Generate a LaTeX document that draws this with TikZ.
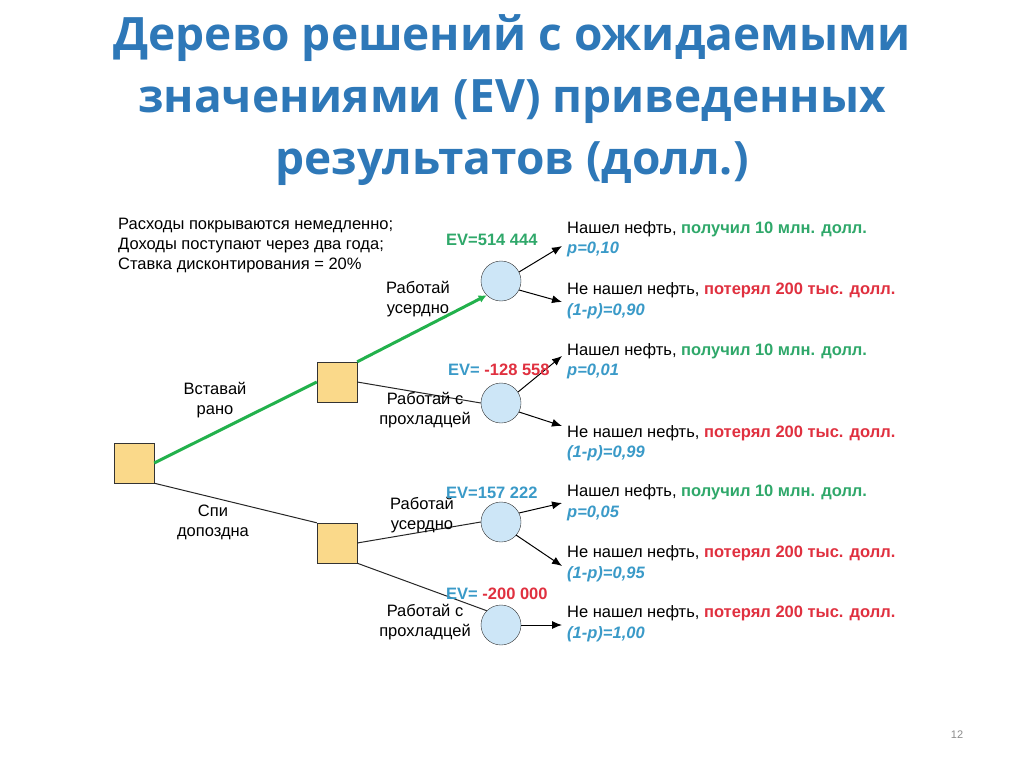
\documentclass[tikz,border=0pt]{standalone}
\usepackage{fontspec}
\setmainfont{Liberation Sans}
\newfontfamily\titlefont{Open Sans}
\usetikzlibrary{arrows.meta}
\definecolor{ttlblue}{HTML}{2E78B8}
\definecolor{evblue}{HTML}{3A9AC8}
\definecolor{okgreen}{HTML}{2FA86A}
\definecolor{lossred}{HTML}{E0303F}
\definecolor{boxfill}{HTML}{FAD98A}
\definecolor{circfill}{HTML}{CDE6F7}
\definecolor{edgegreen}{HTML}{22B14C}
\tikzset{
  decision/.style={draw=black!80, fill=boxfill, minimum size=40pt, inner sep=0pt},
  chance/.style={draw=black!80, fill=circfill, circle, minimum size=40pt, inner sep=0pt},
  txt/.style={font=\fontsize{16.5}{20}\selectfont, inner sep=0pt, align=left, anchor=west},
  lbl/.style={font=\fontsize{16.5}{20}\selectfont, inner sep=0pt, align=center},
  ev/.style={font=\bfseries\fontsize{16.5}{20}\selectfont, inner sep=0pt, anchor=west, text=evblue},
  prob/.style={font=\bfseries\itshape\fontsize{16.5}{20}\selectfont, inner sep=0pt, anchor=west, text=evblue},
  line/.style={draw=black!85, line width=1pt},
  good/.style={draw=edgegreen, line width=3pt},
  leaf/.style={draw=black, line width=1pt, -{Latex[length=10pt,width=8pt]}},
}
\begin{document}
\begin{tikzpicture}[x=1pt,y=-1pt]
\useasboundingbox[fill=white] (0,0) rectangle (1024,767);

% title
\node[font=\titlefont\bfseries\fontsize{46}{62}\selectfont, text=ttlblue, align=center] (title) at (512,100)
  {Дерево решений с ожидаемыми\\значениями (EV) приведенных\\результатов (долл.)};

% assumptions
\node[txt, anchor=north west] (notes) at (118,218)
  {Расходы покрываются немедленно;\\Доходы поступают через два года;\\Ставка дисконтирования = 20\%};

% decision nodes
\node[decision] (root) at (134,463) {};
\node[decision] (early) at (337,382) {};
\node[decision] (late) at (337,543) {};

% chance nodes
\node[chance] (c1) at (501,281) {};
\node[chance] (c2) at (501,403) {};
\node[chance] (c3) at (501,522) {};
\node[chance] (c4) at (501,625) {};

% branches
\draw[line] (root.south east) -- (late.north west);
\draw[line] (early.east) -- (c2.west);
\draw[line] (late.east) -- (c3.west);
\draw[line] (late.south east) -- (c4.north west);
\draw[good] (root.east) -- (early.west);
\draw[good, -{Latex[length=8pt,width=8pt]}] (early.north east) -- (c1.south west);

% leaf arrows
\coordinate (e1) at (562,246);
\coordinate (e2) at (562,302);
\coordinate (e3) at (562,356);
\coordinate (e4) at (562,426);
\coordinate (e5) at (562,503);
\coordinate (e6) at (562,566);
\coordinate (e7) at (562,625);
\draw[leaf] (c1) ++(18,-9) coordinate (s1) -- (e1);
\draw[leaf] (c1) ++(18,9) coordinate (s2) -- (e2);
\draw[leaf] (c2) ++(17,-11) coordinate (s3) -- (e3);
\draw[leaf] (c2) ++(18,9) coordinate (s4) -- (e4);
\draw[leaf] (c3) ++(18,-9) coordinate (s5) -- (e5);
\draw[leaf] (c3) ++(15,13) coordinate (s6) -- (e6);
\draw[leaf] (c4.east) -- (e7);

% branch labels
\node[lbl] (l1) at (215,400) {Вставай\\рано};
\node[lbl] (l2) at (213,522) {Спи\\допоздна};
\node[lbl] (l3) at (418,299) {Работай\\усердно};
\node[lbl] (l4) at (425,410) {Работай с\\прохладцей};
\node[lbl] (l5) at (422,515) {Работай\\усердно};
\node[lbl] (l6) at (425,622) {Работай с\\прохладцей};

% expected values
\node[ev, text=okgreen] (ev1) at (446,240) {EV=514 444};
\node[ev] (ev2) at (448,370) {EV= \textcolor{lossred}{-128 558}};
\node[ev] (ev3) at (446,493) {EV=157 222};
\node[ev] (ev4) at (446,594) {EV= \textcolor{lossred}{-200 000}};

% outcomes
\node[txt] (o1) at (567,229) {Нашел нефть, \textcolor{okgreen}{\bfseries получил 10 млн. долл.}};
\node[prob] (p1) at (567,249) {p=0,10};
\node[txt] (o2) at (567,290) {Не нашел нефть, \textcolor{lossred}{\bfseries потерял 200 тыс. долл.}};
\node[prob] (p2) at (567,311) {(1-p)=0,90};
\node[txt] (o3) at (567,351) {Нашел нефть, \textcolor{okgreen}{\bfseries получил 10 млн. долл.}};
\node[prob] (p3) at (567,371) {p=0,01};
\node[txt] (o4) at (567,433) {Не нашел нефть, \textcolor{lossred}{\bfseries потерял 200 тыс. долл.}};
\node[prob] (p4) at (567,453) {(1-p)=0,99};
\node[txt] (o5) at (567,492) {Нашел нефть, \textcolor{okgreen}{\bfseries получил 10 млн. долл.}};
\node[prob] (p5) at (567,513) {p=0,05};
\node[txt] (o6) at (567,553) {Не нашел нефть, \textcolor{lossred}{\bfseries потерял 200 тыс. долл.}};
\node[prob] (p6) at (567,574) {(1-p)=0,95};
\node[txt] (o7) at (567,613) {Не нашел нефть, \textcolor{lossred}{\bfseries потерял 200 тыс. долл.}};
\node[prob] (p7) at (567,634) {(1-p)=1,00};

% page number
\node[font=\fontsize{11}{13}\selectfont, text=black!45] (page) at (957,735) {12};
\end{tikzpicture}
\end{document}
